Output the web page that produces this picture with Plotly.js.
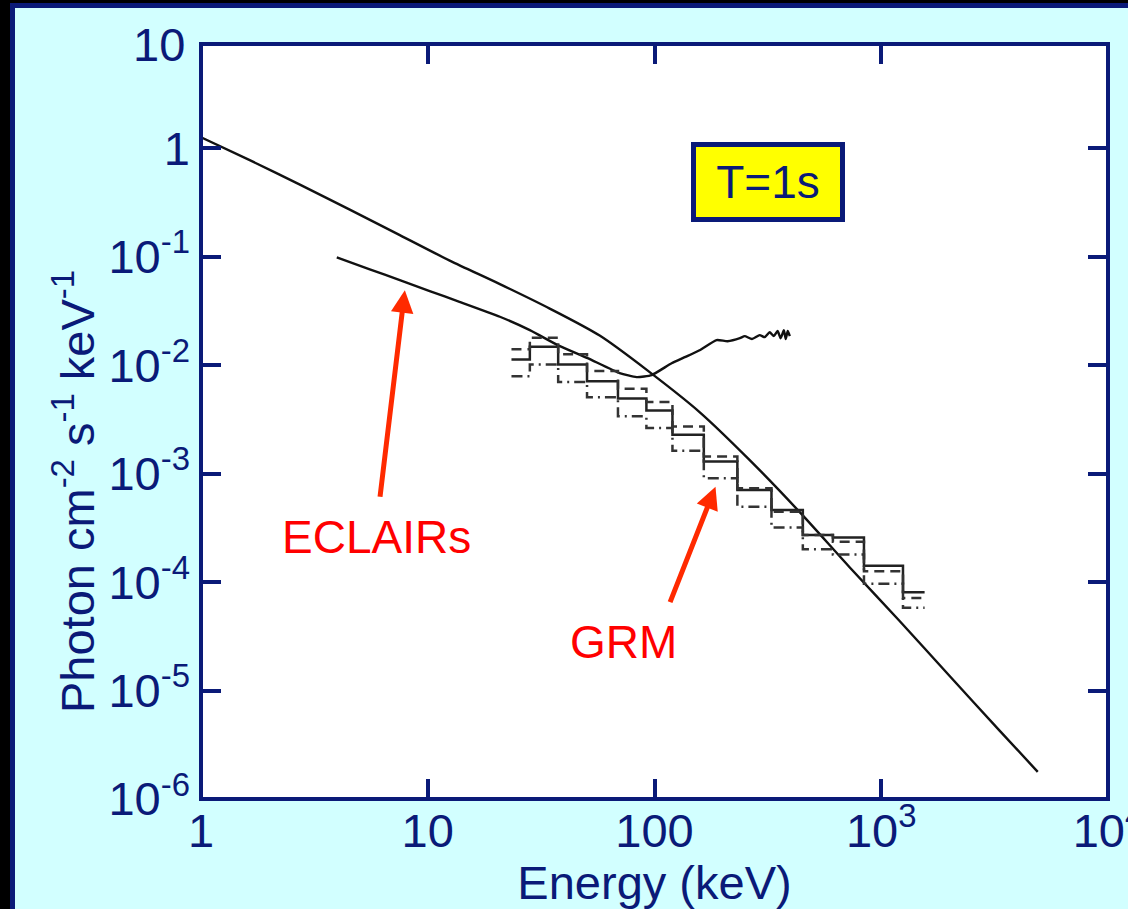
<!DOCTYPE html>
<html>
<head>
<meta charset="utf-8">
<script src="https://cdn.plot.ly/plotly-3.0.1.min.js"></script>
<style>
  html, body { margin:0; padding:0; background:#000; overflow:hidden; width:1128px; height:909px; }
  #frame { position:absolute; left:10px; top:3px; width:1140px; height:920px; border:5px solid #0a1a78; background:#d2ffff; }
  #chart { position:absolute; left:0; top:0; width:1128px; height:909px; }
</style>
</head>
<body>
<div id="frame"></div>
<div id="chart"></div>
<script>
// Model spectrum (photon flux vs energy)
const modelEnergy = [1.0, 1.64, 2.73, 4.53, 7.53, 12.5, 20.8, 34.5, 57.3, 95.2, 158, 263, 437, 725, 1205, 2003, 3325, 4900];
const modelFlux   = [1.26, 0.775, 0.461, 0.271, 0.158, 0.0919, 0.0558, 0.0332, 0.0187, 0.00861, 0.00369, 0.00133, 4.41e-4, 1.37e-4, 4.37e-5, 1.36e-5, 4.27e-6, 1.78e-6];

// ECLAIRs sensitivity curve
const eclairsEnergy = [3.97, 5.55, 7.53, 10.2, 13.8, 20.8, 28.2, 37.4, 50.7, 70.2, 83.4, 97.2, 119, 137, 158, 188, 210, 238, 250, 269, 291, 306, 322, 336, 349, 360, 372, 379, 387, 395];
const eclairsFlux   = [0.0983, 0.0764, 0.0607, 0.0481, 0.0383, 0.0279, 0.0210, 0.0153, 0.0116, 0.00844, 0.00775, 0.00809, 0.0104, 0.0119, 0.0137, 0.0170, 0.0166, 0.0177, 0.0185, 0.0174, 0.0189, 0.0181, 0.0201, 0.0185, 0.0206, 0.0177, 0.0210, 0.0174, 0.0206, 0.0185];

// GRM sensitivity histograms (bin edges, keV)
const grmEdges = [23.4, 28.2, 37.6, 50.4, 69.0, 92.1, 120, 165, 232, 328, 451, 612, 839, 1247, 1553];
const grmSolid   = [0.01129, 0.01476, 0.01015, 0.00711, 0.00492, 0.00381, 0.00228, 0.00129, 7.06e-4, 4.61e-4, 2.71e-4, 2.57e-4, 1.41e-4, 8.07e-5];
const grmDashed  = [0.01397, 0.0179, 0.01256, 0.00880, 0.00604, 0.00457, 0.00272, 0.00144, 7.31e-4, 4.45e-4, 2.72e-4, 2.35e-4, 1.26e-4, 7.11e-5];
const grmDashDot = [0.00791, 0.01015, 0.00700, 0.00506, 0.00337, 0.00263, 0.00162, 9.04e-4, 4.95e-4, 3.18e-4, 2.01e-4, 1.79e-4, 9.65e-5, 5.78e-5];

// Axis ticks
const xTickVals = [1, 10, 100, 1000, 10000];
const xTickText = ['1', '10', '100', '10<sup>3</sup>', '10<sup>4</sup>'];
const yTickVals = [1e-6, 1e-5, 1e-4, 1e-3, 1e-2, 1e-1, 1];
const yTickText = ['10<sup>-6</sup>', '10<sup>-5</sup>', '10<sup>-4</sup>', '10<sup>-3</sup>', '10<sup>-2</sup>', '10<sup>-1</sup>', '1'];

const NAVY = '#0a1a78';
const FONT = 'Liberation Sans, Arial, sans-serif';
const FS = 47;

const withLast = arr => arr.concat([arr[arr.length - 1]]);

const traces = [
  { x: modelEnergy, y: modelFlux, mode: 'lines', line: { color: '#111', width: 2.4, shape: 'spline', smoothing: 0.8 }, name: 'Model', hoverinfo: 'skip' },
  { x: eclairsEnergy, y: eclairsFlux, mode: 'lines', line: { color: '#111', width: 2.4, shape: 'spline', smoothing: 0.5 }, name: 'ECLAIRs', hoverinfo: 'skip' },
  { x: grmEdges, y: withLast(grmSolid), mode: 'lines', line: { color: '#222', width: 2.5, shape: 'hv' }, name: 'GRM', hoverinfo: 'skip' },
  { x: grmEdges, y: withLast(grmDashed), mode: 'lines', line: { color: '#333', width: 2.5, shape: 'hv', dash: '10px,6px' }, name: 'GRM 2', hoverinfo: 'skip' },
  { x: grmEdges, y: withLast(grmDashDot), mode: 'lines', line: { color: '#333', width: 2.5, shape: 'hv', dash: '11px,5px,2px,5px' }, name: 'GRM 3', hoverinfo: 'skip' }
];

const axisCommon = {
  type: 'log', ticks: 'inside', ticklen: 20, tickwidth: 4, tickcolor: NAVY,
  mirror: 'ticks', showline: false, showgrid: false, zeroline: false,
  tickfont: { family: FONT, size: FS, color: NAVY }
};

const layout = {
  width: 1128, height: 909,
  margin: { l: 201, r: 20, t: 44, b: 110 },
  paper_bgcolor: 'rgba(0,0,0,0)', plot_bgcolor: '#ffffff',
  showlegend: false,
  font: { family: FONT, color: NAVY },
  xaxis: Object.assign({}, axisCommon, {
    range: [0, 4], tickmode: 'array', tickvals: xTickVals, ticktext: xTickText,
    ticklabelstandoff: 0, ticklabeloverflow: 'allow',
    title: { text: 'Energy (keV)', font: { family: FONT, size: FS, color: NAVY }, standoff: 0 }
  }),
  yaxis: Object.assign({}, axisCommon, {
    range: [-6, 0.96], tickmode: 'array', tickvals: yTickVals, ticktext: yTickText,
    ticklabelstandoff: 10
  }),
  shapes: [
    { type: 'rect', xref: 'paper', yref: 'paper', x0: 0, x1: 1, y0: 0, y1: 1, line: { color: NAVY, width: 4 }, layer: 'above' }
  ],
  annotations: [
    { xref: 'paper', yref: 'paper', x: 0, y: 1, xanchor: 'right', yanchor: 'middle', xshift: -14, showarrow: false,
      text: '10', font: { family: FONT, size: FS, color: NAVY } },
    { xref: 'paper', yref: 'paper', x: 0, y: 0.4066, xanchor: 'center', yanchor: 'middle', xshift: -127, showarrow: false,
      textangle: -90, text: 'Photon cm<sup>-2</sup> s<sup>-1</sup> keV<sup>-1</sup>', font: { family: FONT, size: FS, color: NAVY } },
    { xref: 'x', yref: 'y', x: 2.499, y: -0.309, showarrow: false, text: 'T=1s',
      font: { family: FONT, size: 46, color: NAVY }, bgcolor: '#ffff00', bordercolor: NAVY, borderwidth: 5,
      borderpad: 4, width: 136, height: 62 },
    { xref: 'x', yref: 'y', x: 0.775, y: -3.585, showarrow: false, text: 'ECLAIRs',
      font: { family: FONT, size: 46, color: '#ff0000' } },
    { xref: 'x', yref: 'y', x: 1.864, y: -4.553, showarrow: false, text: 'GRM',
      font: { family: FONT, size: 46, color: '#ff0000' } },
    { xref: 'x', yref: 'y', x: 0.899, y: -1.31, ax: -25, ay: 208, text: '', showarrow: true,
      arrowhead: 2, arrowsize: 0.9, arrowwidth: 5, arrowcolor: '#ff2a00', standoff: 0 },
    { xref: 'x', yref: 'y', x: 2.269, y: -3.121, ax: -46, ay: 117, text: '', showarrow: true,
      arrowhead: 2, arrowsize: 0.9, arrowwidth: 5, arrowcolor: '#ff2a00', standoff: 0 }
  ]
};

Plotly.newPlot('chart', traces, layout, { staticPlot: true, displayModeBar: false });
</script>
</body>
</html>
